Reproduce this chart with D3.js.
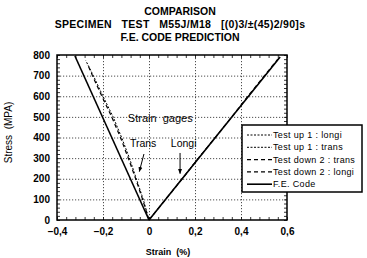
<!DOCTYPE html>
<html>
<head>
<meta charset="utf-8">
<script src="https://cdn.jsdelivr.net/npm/d3@7"></script>
<style>
  body { margin: 0; background: #fff; }
  svg { display: block; font-family: "Liberation Sans", Arial, sans-serif; }
</style>
</head>
<body>
<svg id="chart" width="367" height="258"></svg>
<script>
// tick values
const xTicks = [-0.4, -0.2, 0, 0.2, 0.4, 0.6];
const yTicks = [0, 100, 200, 300, 400, 500, 600, 700, 800];

// F.E. code prediction
const feLongiStrain = [0, 0.57];
const feLongiStress = [0, 790];
const feTransStrain = [0, -0.322];
const feTransStress = [0, 795];

// test up 1
const up1LongiStrain = [0, 0.1, 0.2, 0.3, 0.4, 0.5, 0.565];
const up1LongiStress = [0, 140, 280, 418, 555, 695, 785];
const up1TransStrain = [0, -0.025, -0.055, -0.085, -0.119, -0.156, -0.2, -0.242, -0.275];
const up1TransStress = [0, 100, 200, 300, 400, 500, 600, 700, 773];

// test down 2
const dn2TransStrain = [0, -0.028, -0.058, -0.09, -0.124, -0.162, -0.205, -0.246, -0.268];
const dn2TransStress = [0, 100, 200, 300, 400, 500, 600, 700, 758];
const dn2LongiStrain = [0, 0.07, 0.145, 0.215, 0.29, 0.36, 0.43, 0.5, 0.56];
const dn2LongiStress = [0, 97, 200, 300, 402, 500, 600, 697, 780];

const svg = d3.select("#chart");

const padding = { top: 55, left: 57, right: 80, bottom: 38 };
const width = 367 - padding.left - padding.right;
const height = 258 - padding.top - padding.bottom;

const xScale = d3.scaleLinear().domain([-0.4, 0.6]).range([0, width]);
const yScale = d3.scaleLinear().domain([0, 800]).range([height, 0]);

const fmt = d => d === 0 ? "0" : d3.format(".1f")(d).replace(".", ",");

// titles (non-breaking spaces keep the wide gaps)
const nb = "\u00a0";
const gap = nb + nb + nb;
const titles = [
  "COMPARISON",
  `SPECIMEN${gap}TEST${gap}M55J/M18${gap}[(0)3/\u00b1(45)2/90]s`,
  "F.E. CODE PREDICTION"
];
svg.selectAll("text.title")
  .data(titles)
  .enter().append("text")
  .attr("class", "title")
  .attr("x", 180)
  .attr("y", (d, i) => 15 + i * 13)
  .attr("text-anchor", "middle")
  .style("font-size", "10.5px")
  .style("font-weight", "bold")
  .style("letter-spacing", (d, i) => i === 1 ? "0.3px" : "0px")
  .text(d => d);

const g = svg.append("g")
  .attr("transform", `translate(${padding.left},${padding.top})`);

// dotted grid at major ticks
g.append("g")
  .call(d3.axisBottom(xScale).tickValues(xTicks.slice(1, -1)).tickSize(height).tickFormat(""))
  .call(a => a.select(".domain").remove())
  .selectAll("line").attr("stroke", "#222").attr("stroke-width", 0.8).attr("stroke-dasharray", "1.2,1.8");
g.append("g")
  .call(d3.axisLeft(yScale).tickValues(yTicks.slice(1, -1)).tickSize(-width).tickFormat(""))
  .call(a => a.select(".domain").remove())
  .selectAll("line").attr("stroke", "#222").attr("stroke-width", 0.8).attr("stroke-dasharray", "1.2,1.8");

// minor ticks inward on all sides
const xMinor = d3.range(-0.4, 0.6001, 0.04);
const yMinor = d3.range(0, 800.1, 20);
const minorAxes = [
  [d3.axisBottom(xScale).tickValues(xMinor).tickSize(-3), `translate(0,${height})`],
  [d3.axisTop(xScale).tickValues(xMinor).tickSize(-3), "translate(0,0)"],
  [d3.axisLeft(yScale).tickValues(yMinor).tickSize(-3), "translate(0,0)"],
  [d3.axisRight(yScale).tickValues(yMinor).tickSize(-3), `translate(${width},0)`]
];
minorAxes.forEach(([ax, tr]) => {
  g.append("g").attr("transform", tr)
    .call(ax.tickFormat(""))
    .call(a => a.select(".domain").remove())
    .selectAll("line").attr("stroke", "#000").attr("stroke-width", 0.8);
});

// tick labels
g.append("g")
  .attr("transform", `translate(0,${height})`)
  .call(d3.axisBottom(xScale).tickValues(xTicks).tickSize(0).tickPadding(8).tickFormat(fmt))
  .call(a => a.select(".domain").remove())
  .selectAll("text").style("font-size", "10px").style("font-weight", "bold")
  .attr("font-family", "Liberation Sans, Arial, sans-serif").attr("fill", "#000");
g.append("g")
  .call(d3.axisLeft(yScale).tickValues(yTicks).tickSize(0).tickPadding(7).tickFormat(d3.format("d")))
  .call(a => a.select(".domain").remove())
  .selectAll("text").style("font-size", "10px").style("font-weight", "bold")
  .attr("font-family", "Liberation Sans, Arial, sans-serif").attr("fill", "#000");

// frame
g.append("rect")
  .attr("width", width).attr("height", height)
  .attr("fill", "none").attr("stroke", "#000").attr("stroke-width", 1.5);

// axis titles
svg.append("text")
  .attr("transform", `translate(12,${padding.top + height / 2 - 5}) rotate(-90)`)
  .attr("text-anchor", "middle")
  .style("font-size", "10px")
  .text(`Stress${nb}${nb}(MPA)`);
svg.append("text")
  .attr("x", 168).attr("y", 255)
  .attr("text-anchor", "middle")
  .style("font-size", "9px")
  .style("font-weight", "bold")
  .text(`Strain${nb}${nb}(%)`);

// curves
const zip = (xs, ys) => xs.map((x, i) => [x, ys[i]]);
const line = d3.line().x(d => xScale(d[0])).y(d => yScale(d[1]));

const series = [
  { label: "Test up 1 : longi", pts: zip(up1LongiStrain, up1LongiStress), dash: "2,1.5", w: 1 },
  { label: "Test up 1 : trans", pts: zip(up1TransStrain, up1TransStress), dash: "2,1.5", w: 1 },
  { label: "Test down 2 : trans", pts: zip(dn2TransStrain, dn2TransStress), dash: "4,3", w: 1.2 },
  { label: "Test down 2 : longi", pts: zip(dn2LongiStrain, dn2LongiStress), dash: "4,3", w: 1.2 },
  { label: "F.E. Code", pts: null, dash: null, w: 1.6 }
];

[zip(feLongiStrain, feLongiStress), zip(feTransStrain, feTransStress)].forEach(p => {
  g.append("path").attr("d", line(p))
    .attr("fill", "none").attr("stroke", "#000").attr("stroke-width", 1.6);
});
series.filter(s => s.pts).forEach(s => {
  g.append("path").attr("d", line(s.pts))
    .attr("fill", "none").attr("stroke", "#000")
    .attr("stroke-width", s.w).attr("stroke-dasharray", s.dash);
});

// annotations
g.append("text").attr("x", xScale(-0.092)).attr("y", yScale(475))
  .style("font-size", "11px").text(`Strain${nb}${nb}gages`);
g.append("text").attr("x", xScale(-0.083)).attr("y", yScale(355))
  .style("font-size", "10.5px").text("Trans");
g.append("text").attr("x", xScale(0.095)).attr("y", yScale(355))
  .style("font-size", "10.5px").text("Longi");

const defs = svg.append("defs");
defs.append("marker")
  .attr("id", "arrow").attr("viewBox", "0 0 10 10")
  .attr("refX", 9).attr("refY", 5)
  .attr("markerWidth", 5).attr("markerHeight", 5)
  .attr("orient", "auto")
  .append("path").attr("d", "M0,1 L10,5 L0,9 Z").attr("fill", "#000");

const arrows = [
  [[-0.022, 320], [-0.042, 235]],
  [[0.135, 325], [0.135, 225]]
];
arrows.forEach(a => {
  g.append("line")
    .attr("x1", xScale(a[0][0])).attr("y1", yScale(a[0][1]))
    .attr("x2", xScale(a[1][0])).attr("y2", yScale(a[1][1]))
    .attr("stroke", "#000").attr("stroke-width", 1)
    .attr("marker-end", "url(#arrow)");
});

// legend
const legend = svg.append("g").attr("transform", "translate(242,125)");
legend.append("rect")
  .attr("width", 120).attr("height", 67)
  .attr("fill", "#fff").attr("stroke", "#000").attr("stroke-width", 1.5);
const item = legend.selectAll("g.item")
  .data(series).enter().append("g")
  .attr("transform", (d, i) => `translate(5,${10 + i * 12.3})`);
item.append("line")
  .attr("x1", 0).attr("x2", 25)
  .attr("stroke", "#000")
  .attr("stroke-width", d => d.w)
  .attr("stroke-dasharray", d => d.dash);
item.append("text")
  .attr("x", 26).attr("y", 3)
  .style("font-size", "9px")
  .style("letter-spacing", "0.35px")
  .text(d => d.label);
</script>
</body>
</html>
